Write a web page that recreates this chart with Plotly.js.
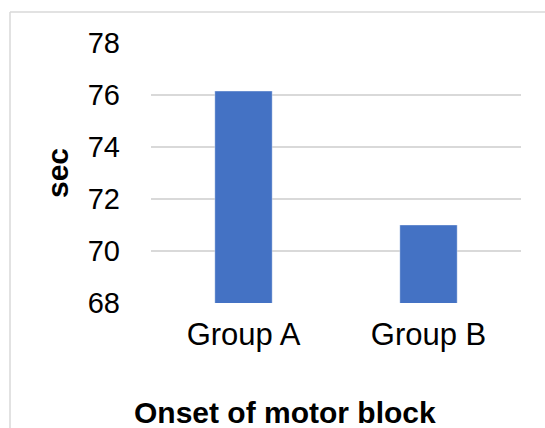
<!DOCTYPE html>
<html>
<head>
<meta charset="utf-8">
<script src="https://cdn.plot.ly/plotly-3.0.1.min.js"></script>
<style>
  html, body { margin: 0; padding: 0; background: #fff; }
  #chart { width: 545px; height: 428px; }
</style>
</head>
<body>
<div id="chart"></div>
<script>
// Onset of motor block (seconds) per group
const groups = ['Group A', 'Group B'];
const onsetSec = [76.15, 71.0];
const yTicks = [68, 70, 72, 74, 76, 78];

const FONT = 'Arial, "Liberation Sans", sans-serif';
const W = 545, H = 428;
const M = { l: 151, r: 24, t: 43, b: 125 };
const plotW = W - M.l - M.r, plotH = H - M.t - M.b;
// pixel -> paper helpers for the chart frame and outer title
const px = x => (x - M.l) / plotW;
const py = y => (H - M.b - y) / plotH;

const trace = {
  type: 'bar',
  x: groups,
  y: onsetSec,
  marker: { color: '#4472C4', line: { color: 'rgba(255,255,255,0.35)', width: 1 } },
  hoverinfo: 'x+y'
};

const layout = {
  width: W, height: H,
  margin: M,
  paper_bgcolor: '#fff',
  plot_bgcolor: '#fff',
  showlegend: false,
  bargap: 0.69,
  font: { family: FONT, color: '#000', size: 28 },
  xaxis: {
    type: 'category',
    showgrid: false, zeroline: false, showline: false,
    ticks: '',
    tickfont: { family: FONT, size: 31, color: '#000' },
    ticklabelstandoff: 10
  },
  yaxis: {
    range: [68, 78],
    tickvals: yTicks,
    ticktext: yTicks.map(String),
    showgrid: true, gridcolor: '#d9d9d9', gridwidth: 1.5,
    zeroline: false, showline: false, ticks: '',
    tickfont: { family: FONT, size: 29, color: '#000' },
    ticklabelstandoff: 30,
    title: { text: '<b>sec</b>', font: { family: FONT, size: 30, color: '#000' }, standoff: 10 }
  },
  shapes: [
    { type: 'line', xref: 'paper', yref: 'paper', x0: px(10), x1: px(560), y0: py(12), y1: py(12),
      line: { color: '#d9d9d9', width: 1.5 } },
    { type: 'line', xref: 'paper', yref: 'paper', x0: px(10), x1: px(10), y0: py(12), y1: py(440),
      line: { color: '#d9d9d9', width: 1.5 } }
  ],
  annotations: [
    { text: '<b>Onset of motor block</b>', xref: 'paper', yref: 'paper',
      x: px(285), y: py(412), xanchor: 'center', yanchor: 'middle', showarrow: false,
      font: { family: FONT, size: 30, color: '#000' } }
  ]
};

Plotly.newPlot('chart', [trace], layout, { displayModeBar: false, staticPlot: true });
</script>
</body>
</html>
